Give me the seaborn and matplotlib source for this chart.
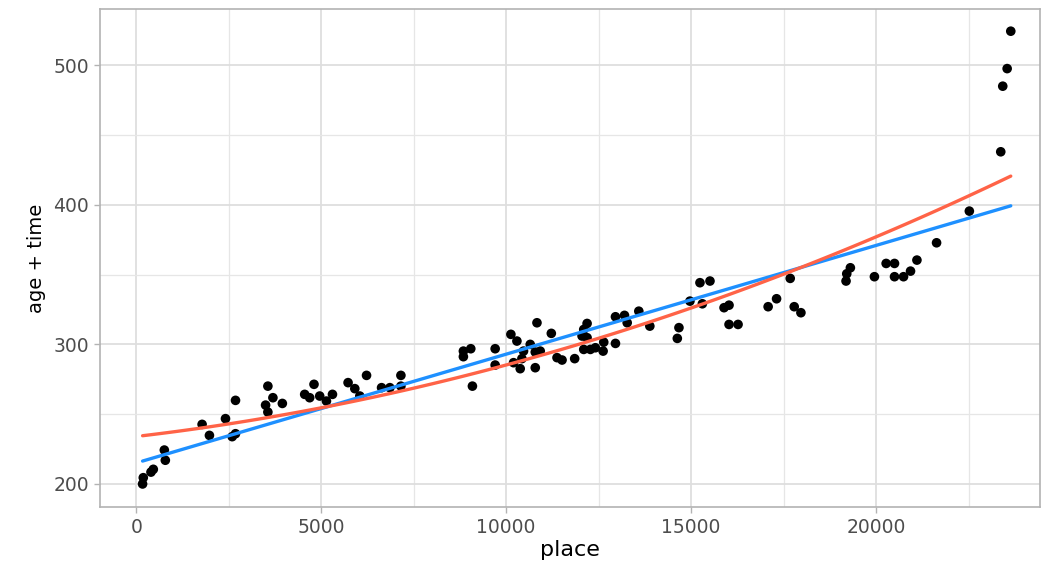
import matplotlib
matplotlib.use("Agg")
import matplotlib.pyplot as plt
import seaborn as sns
import pandas as pd
from matplotlib.ticker import MultipleLocator

place = [171, 190, 398, 461, 759, 786, 1780, 1978, 2412, 2593, 2683, 2683,
         3558, 3496, 3558, 3694, 3949, 4553, 4688, 4805, 4959, 5141, 5304,
         5726, 5908, 6043, 6225, 6631, 6856, 7154, 7154,
         8843, 9043, 8843, 9087, 9702, 9702, 10127, 10290, 10199, 10379,
         10469, 10650, 10786, 10921, 10786, 10832, 10425, 11220, 11374, 11510,
         11851, 12096, 12187, 12051, 12187, 12096, 12276, 12412, 12620, 12637,
         12954, 12954, 13198, 13271, 13585, 13883, 14670, 14626,
         14967, 15238, 15509, 15303, 15889, 16024, 16024, 16268, 17081, 17309,
         17678, 17786, 17967, 19187, 19206, 19304, 19954, 20271, 20497, 20497,
         20741, 20930, 21103, 21634, 22520, 23369, 23423, 23542, 23640]
age_time = [200, 204.5, 208.5, 210.5, 224.3, 217, 242.7, 234.8, 246.8, 233.9, 236, 259.9,
            270.1, 256.5, 251.5, 261.8, 257.7, 264.2, 261.8, 271.4, 263, 259.4, 264.2,
            272.6, 268.3, 263, 277.8, 269, 269, 277.8, 270.1,
            295.2, 296.9, 291.2, 270.1, 296.9, 285.2, 307.2, 302.4, 286.9, 282.6,
            295.2, 300, 294.5, 295.2, 283.3, 315.5, 289.8, 307.9, 290.5, 288.8,
            289.8, 310.7, 315, 306, 304.8, 296.4, 296.4, 297.6, 295.2, 301.6,
            300.7, 319.8, 320.8, 315.5, 323.8, 313.1, 312, 304.3,
            331, 344.2, 345.4, 329.1, 326.3, 328.1, 314.3, 314.3, 327, 332.7,
            347.3, 327, 322.7, 345.4, 350.6, 354.9, 348.5, 358, 358, 348.5,
            348.5, 352.5, 360.4, 372.8, 395.5, 438, 485, 497.6, 524.4]

x_ticks = [0, 5000, 10000, 15000, 20000]
y_ticks = [200, 300, 400, 500]

df = pd.DataFrame({"place": place, "age + time": age_time})

sns.set_theme(style="white")
plt.rcParams["font.family"] = ["DejaVu Sans"]

fig = plt.figure(figsize=(10.41, 5.64), dpi=100)
ax = fig.add_axes([100 / 1041, 57 / 564, 940 / 1041, 498 / 564])

ax.set_axisbelow(True)
ax.xaxis.set_minor_locator(MultipleLocator(2500))
ax.yaxis.set_minor_locator(MultipleLocator(50))
ax.grid(which="major", color="#DEDEDE", linewidth=1.3)
ax.grid(which="minor", color="#E6E6E6", linewidth=0.9)

sns.scatterplot(data=df, x="place", y="age + time", ax=ax, color="black",
                s=48, edgecolor="none", zorder=3)
sns.regplot(data=df, x="place", y="age + time", ax=ax, scatter=False, ci=None,
            color="#1E90FF", line_kws={"linewidth": 2.4, "zorder": 4})
sns.regplot(data=df, x="place", y="age + time", ax=ax, scatter=False, ci=None,
            order=2, color="#FF6347", line_kws={"linewidth": 2.4, "zorder": 5})

ax.set_xlim(-980, 24430)
ax.set_ylim(183.5, 540.3)
ax.set_xticks(x_ticks)
ax.set_yticks(y_ticks)
ax.set_xticklabels([str(v) for v in x_ticks])
ax.set_yticklabels([str(v) for v in y_ticks])

for sp in ax.spines.values():
    sp.set_visible(True)
    sp.set_color("#B3B3B3")
    sp.set_linewidth(1.2)

ax.tick_params(which="major", direction="out", length=4.5, width=1.0,
               color="#B3B3B3", labelsize=13.5, labelcolor="#4D4D4D", pad=3.5,
               bottom=True, left=True)
ax.tick_params(which="minor", length=0)

ax.set_xlabel("place", fontsize=16, color="black", labelpad=2)
ax.set_ylabel("age + time", fontsize=14, color="black", labelpad=5)

fig.savefig("out.png", dpi=100)
